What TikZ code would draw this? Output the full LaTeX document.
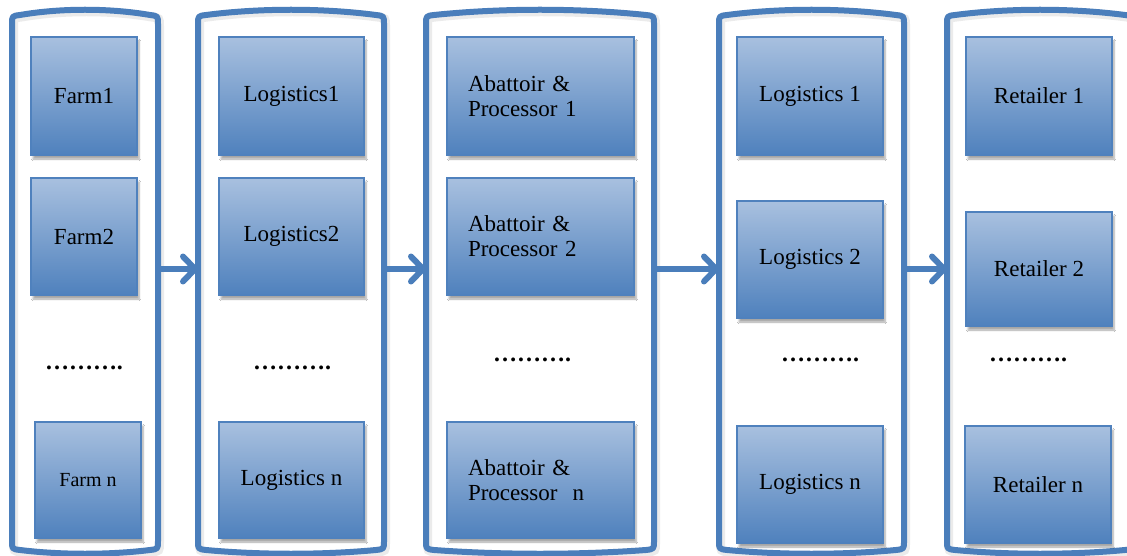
\documentclass[tikz,border=0pt]{standalone}
\usepackage{fontspec}
\setmainfont{Liberation Serif}
\usetikzlibrary{arrows.meta,shadows.blur}
\definecolor{ublue}{RGB}{79,129,189}
\definecolor{ltblue}{RGB}{168,192,223}
\definecolor{contblue}{RGB}{74,126,187}
\tikzset{
  blk/.style={draw=ublue, line width=1.6pt, top color=ltblue, bottom color=ublue,
    text=black, font=\fontsize{23}{25}\selectfont, inner sep=0pt,
    blur shadow={shadow xshift=2pt, shadow yshift=-4pt, shadow blur steps=6, shadow opacity=35}},
  contline/.style={draw=contblue, line width=6pt, line join=round},
  contshade/.style={draw=black!25, line width=9pt, opacity=0.3},
  arr/.style={draw=contblue, line width=6pt, line cap=round,
    -{Straight Barb[length=12pt,width=25pt,round]}},
  dotsl/.style={font=\fontsize{24}{26}\selectfont\bfseries, inner sep=0pt},
}
\newcommand\mycontpath[2]{%
  (#1,24) .. controls (#1,16) .. ({#1+8},15)
  .. controls ({#1+(#2-#1)/3},8) and ({#2-(#2-#1)/3},8) .. ({#2-8},15)
  .. controls (#2,16) .. (#2,24) -- (#2,541)
  .. controls (#2,549) .. ({#2-8},550)
  .. controls ({#2-(#2-#1)/3},555) and ({#1+(#2-#1)/3},555) .. ({#1+8},550)
  .. controls (#1,549) .. (#1,541) -- cycle}
\newcommand\mycont[3]{%
  \coordinate (#1w) at (#2,269);
  \coordinate (#1e) at (#3,269);
  \draw[contshade, xshift=1.5pt, yshift=-2pt] \mycontpath{#2}{#3};
  \draw[contline] \mycontpath{#2}{#3};
}
\begin{document}
\begin{tikzpicture}[x=1pt,y=-1pt]
\useasboundingbox (0,0) rectangle (1127,556);
\fill[white] (0,0) rectangle (1127,556);
% containers
\mycont{c1}{12}{158}
\mycont{c2}{198}{384}
\mycont{c3}{426}{654}
\mycont{c4}{719}{904}
\mycont{c5}{947}{1133}
% column 1
\node[blk, minimum width=106pt, minimum height=118pt] (f1) at (84,96) {Farm1};
\node[blk, minimum width=106pt, minimum height=117pt] (f2) at (84,236.5) {Farm2};
\node[dotsl] (d1) at (84,368) {……….};
\node[blk, minimum width=106pt, minimum height=116pt, font=\fontsize{20}{22}\selectfont] (fn) at (88,480) {Farm n};
% column 2
\node[blk, minimum width=145pt, minimum height=118pt] (l1) at (291.5,96) {Logistics1};
\node[blk, minimum width=145pt, minimum height=117pt] (l2) at (291.5,236.5) {Logistics2};
\node[dotsl] (d2) at (292,368) {……….};
\node[blk, minimum width=145pt, minimum height=116pt] (ln) at (291.5,480) {Logistics n};
% column 3
\node[blk, minimum width=187pt, minimum height=118pt, align=left, text width=145pt] (a1) at (540.5,96) {Abattoir \&\\Processor 1};
\node[blk, minimum width=187pt, minimum height=117pt, align=left, text width=145pt] (a2) at (540.5,236.5) {Abattoir \&\\Processor 2};
\node[dotsl] (d3) at (532,360) {……….};
\node[blk, minimum width=187pt, minimum height=116pt, align=left, text width=145pt] (an) at (540.5,480) {Abattoir \&\\Processor~ n};
% column 4
\node[blk, minimum width=146pt, minimum height=118pt] (m1) at (810,96) {Logistics 1};
\node[blk, minimum width=146pt, minimum height=117pt] (m2) at (810,259.5) {Logistics 2};
\node[dotsl] (d4) at (820,360) {……….};
\node[blk, minimum width=146pt, minimum height=117pt] (mn) at (810,484.5) {Logistics n};
% column 5
\node[blk, minimum width=146pt, minimum height=118pt] (r1) at (1039,96) {Retailer 1};
\node[blk, minimum width=146pt, minimum height=114pt] (r2) at (1039,269) {Retailer 2};
\node[dotsl] (d5) at (1028,360) {……….};
\node[blk, minimum width=146pt, minimum height=117pt] (rn) at (1038,484.5) {Retailer n};
% arrows
\draw[arr] (c1e) -- (c2w);
\draw[arr] (c2e) -- (c3w);
\draw[arr] (c3e) -- (c4w);
\draw[arr] (c4e) -- (c5w);
\end{tikzpicture}
\end{document}
